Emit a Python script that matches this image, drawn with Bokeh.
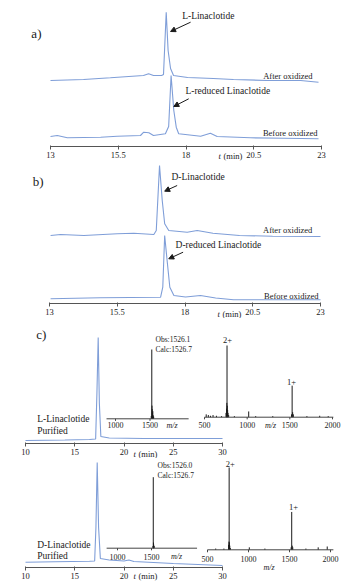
from bokeh.plotting import figure
from bokeh.layouts import column
from bokeh.models import Range1d, FixedTicker, Label, Arrow, NormalHead, NumeralTickFormatter, LinearAxis
from bokeh.core.properties import value
from bokeh.embed import file_html
from bokeh.resources import INLINE

SERIF = "Liberation Serif"
BLUE = "#7F9ED8"
INK = "#1a1a1a"
AXIS = "#555555"
W = 355

# ---------------- data ----------------
# a) HPLC, L-linaclotide (time in min, signal in arbitrary units, traces stacked)
a_after_t = [13.0, 14.22, 15.21, 16.43, 16.62, 16.80, 17.10, 17.17, 17.27, 17.34, 17.43, 17.54, 18.06, 19.01, 19.75, 21.0, 22.23, 22.89]
a_after_y = [66, 67, 68.7, 71, 72.7, 71, 71, 72, 134.3, 96, 78, 71, 69, 68, 67, 66, 66, 64.3]
a_before_t = [13.0, 13.25, 13.62, 14.85, 15.46, 16.32, 16.44, 16.63, 16.80, 17.24, 17.36, 17.45, 17.55, 17.64, 17.73, 18.54, 18.90, 19.15, 20.38, 21.60, 22.89]
a_before_y = [10, 11, 8.7, 9.3, 10.3, 11, 14.3, 13.7, 11, 12.7, 20, 71, 36, 19.3, 12.7, 10.3, 13.3, 10, 8.7, 8.3, 7.7]

# b) HPLC, D-linaclotide
b_after_t = [13.04, 13.41, 14.27, 15.50, 16.11, 16.85, 16.94, 17.06, 17.16, 17.25, 17.40, 18.08, 18.45, 19.03, 20.01, 21.23, 23.0]
b_after_y = [68, 69, 68, 69.7, 70.3, 69, 73, 138, 103, 79.7, 73, 71.3, 73, 70.3, 68, 67.3, 67]
b_before_t = [13.04, 14.88, 17.10, 17.18, 17.25, 17.34, 17.44, 17.59, 18.02, 18.57, 19.13, 19.79, 23.0]
b_before_y = [4.7, 5.7, 6.3, 16.3, 68, 43, 16.3, 8, 6.5, 8, 5.5, 3.7, 3.7]

ab_ticks = [13, 15.5, 18, 20.5, 23]

# c) purified peptides: HPLC + MS
cL_t = [10.0, 14.0, 16.5, 17.12, 17.25, 17.38, 17.5, 17.65, 18.5, 22.0, 26.0, 30.0]
cL_y = [3, 3.5, 4, 4.5, 50, 106, 40, 7, 5.5, 5, 5, 5]
cD_t = [10.0, 13.0, 16.5, 17.02, 17.15, 17.28, 17.42, 17.6, 18.5, 20.0, 20.5, 21.0, 25.0, 30.0]
cD_y = [5.3, 5.8, 6.3, 6.5, 40, 105, 40, 9, 7.5, 6.5, 7.5, 6, 4, 2]
c_ticks = [10, 15, 20, 25, 30]

msL_obs_mz = [1518, 1526, 1529, 1532, 1536, 1541, 1547, 1553]
msL_obs_int = [4, 100, 19, 14, 9, 11, 5, 3]
msL_full_mz = [520, 545, 570, 600, 640, 700, 752, 758, 762, 764, 767, 771, 776, 783, 850, 1018, 1100, 1300, 1520, 1527, 1533, 1541, 1700, 1850, 1950]
msL_full_int = [4, 3, 2, 3, 2, 1.5, 6, 12, 20, 100, 16, 10, 6, 3, 1.5, 8, 1.5, 1.5, 4, 44, 7, 4, 1.5, 2, 1.5]
msD_obs_mz = [1521, 1526, 1529, 1533, 1540]
msD_obs_int = [3, 100, 8, 5, 3]
msD_full_mz = [600, 700, 758, 762, 764, 767, 772, 780, 1010, 1200, 1520, 1527, 1533, 1540, 1700, 1850, 1960]
msD_full_int = [1.5, 1.5, 6, 10, 100, 9, 5, 2, 3, 1.5, 3, 46, 5, 3, 1.5, 3, 4]
ms_zoom_ticks = [1000, 1500]
ms_full_ticks = [500, 1000, 1500, 2000]


# ---------------- helpers ----------------
def rng(v0, p0, v1, p1, length):
    k = (v1 - v0) / (p1 - p0)
    return Range1d(v0 - p0 * k, v0 + (length - p0) * k)


def chrom_fig(height, y_bottom, xr, bounds, ticks, fmt=None):
    # y data units = pixels above the time axis; the axis sits at y = 0 inside the frame
    p = figure(width=W, height=height, x_range=xr, y_range=Range1d(y_bottom, y_bottom + height),
               output_backend="svg", toolbar_location=None, x_axis_location=None, y_axis_location=None,
               min_border_left=0, min_border_right=0, min_border_top=0, min_border_bottom=0)
    p.outline_line_color = None
    p.grid.visible = False
    ax = LinearAxis(fixed_location=0, ticker=FixedTicker(ticks=ticks), bounds=bounds)
    ax.axis_line_color = AXIS
    ax.major_tick_line_color = AXIS
    ax.major_tick_out = 3
    ax.major_tick_in = 1
    ax.minor_tick_line_color = None
    ax.major_label_standoff = 2
    ax.major_label_text_font = SERIF
    ax.major_label_text_font_size = "8.5px"
    ax.major_label_text_color = INK
    if fmt:
        ax.formatter = fmt
    p.add_layout(ax, "below")
    return p


def label(p, x, y, text, size="9.5px", align="left", style="normal", xoff=0, **kw):
    p.add_layout(Label(x=x, y=y, text=text, text_font=SERIF, text_font_size=size,
                       text_align=align, text_baseline="middle", text_color=INK,
                       text_font_style=style, x_offset=xoff, **kw))


def arrow(p, x0, y0, x1, y1):
    p.add_layout(Arrow(end=NormalHead(size=5, fill_color=INK, line_color=INK, line_width=1),
                       x_start=x0, y_start=y0, x_end=x1, y_end=y1,
                       line_color=INK, line_width=1))


def tlabel(p, x, y):
    label(p, x, y, "t", size="8.5px", style="italic")
    label(p, x, y, "(min)", size="8.5px", xoff=5)


def ms_inset(p, xname, yname, mz, inten, ax_lo, ax_hi, ticks, tick_y, mz_x, mz_y, tick_len):
    p.segment(x0=mz, y0=[0] * len(mz), x1=mz, y1=inten, x_range_name=xname, y_range_name=yname,
              line_color=INK, line_width=1)
    p.segment(x0=[ax_lo], y0=[0], x1=[ax_hi], y1=[0], x_range_name=xname, y_range_name=yname,
              line_color="#444444", line_width=1)
    p.segment(x0=ticks, y0=[0] * len(ticks), x1=ticks, y1=[-tick_len] * len(ticks),
              x_range_name=xname, y_range_name=yname, line_color="#444444", line_width=1)
    p.text(x=ticks, y=[tick_y] * len(ticks), text=[str(t) for t in ticks],
           x_range_name=xname, y_range_name=yname, text_font=value(SERIF),
           text_font_size="8px", text_align="center", text_baseline="middle", text_color=INK)
    p.text(x=[mz_x], y=[mz_y], text=["m/z"], x_range_name=xname, y_range_name=yname,
           text_font=value(SERIF), text_font_style="italic",
           text_font_size="8px", text_align="center", text_baseline="middle", text_color=INK)


# ---------------- panel a ----------------
fmt = NumeralTickFormatter(format="0.[0]")
pA = chrom_fig(161, -15, rng(13, 50, 23, 321, W), (13, 23), ab_ticks, fmt)
pA.line(a_after_t, a_after_y, line_color=BLUE, line_width=1.1)
pA.line(a_before_t, a_before_y, line_color=BLUE, line_width=1.1)
label(pA, 12.48, 113.5, "a)", size="13px", align="center")
label(pA, 17.86, 131, "L-Linaclotide")
arrow(pA, 18.17, 124.3, 17.43, 115)
label(pA, 22.67, 71, "After oxidized", size="8.5px", align="right")
label(pA, 17.98, 56, "L-reduced  Linaclotide")
arrow(pA, 18.10, 47.7, 17.55, 40)
label(pA, 22.85, 13.3, "Before oxidized", size="8.5px", align="right")
tlabel(pA, 19.2, -9.7)

# ---------------- panel b ----------------
pB = chrom_fig(157, -15, rng(13, 49, 23, 320, W), (13, 23), ab_ticks, fmt)
pB.line(b_after_t, b_after_y, line_color=BLUE, line_width=1.1)
pB.line(b_before_t, b_before_y, line_color=BLUE, line_width=1.1)
label(pB, 12.58, 122, "b)", size="13px", align="center")
label(pB, 17.50, 127, "D-Linaclotide")
arrow(pB, 17.71, 118, 17.25, 112.3)
label(pB, 22.70, 73.7, "After oxidized", size="8.5px", align="right")
label(pB, 17.65, 59, "D-reduced  Linaclotide")
arrow(pB, 17.93, 51.3, 17.40, 44.7)
label(pB, 22.93, 8, "Before oxidized", size="8.5px", align="right")
tlabel(pB, 19.2, -10.3)

# ---------------- panel c (L) ----------------
pC1 = chrom_fig(140, -15, rng(10, 25, 30, 222, W), (10, 30), c_ticks)
pC1.extra_x_ranges = {"mzA": rng(1000, 115, 1500, 149.5, W), "mzB": rng(500, 204, 2000, 332, W)}
pC1.extra_y_ranges = {"iA": rng(0, 39.7, 100, 109, 140), "iB": rng(0, 41.3, 100, 113, 140)}
pC1.line(cL_t, cL_y, line_color=BLUE, line_width=1.1)
ms_inset(pC1, "mzA", "iA", msL_obs_mz, msL_obs_int, 870, 2060, ms_zoom_ticks, -9.5, 1819, -9.5, 3)
ms_inset(pC1, "mzB", "iB", msL_full_mz, msL_full_int, 500, 2010, ms_full_ticks, -11.5, 1273, -11.5, 3)
label(pC1, 11.6, 109, "c)", size="13px", align="center")
label(pC1, 11.19, 24.7, "L-Linaclotide")
label(pC1, 11.19, 13, "Purified")
pC1.text(x=[1580, 1580], y=[114.4, 100], text=["Obs:1526.1", "Calc:1526.7"], x_range_name="mzA", y_range_name="iA",
         text_font=value(SERIF), text_font_size="7.5px", text_baseline="middle", text_color=INK)
pC1.text(x=[769.5, 1519.6], y=[107, 48.4], text=["2+", "1+"], x_range_name="mzB", y_range_name="iB",
         text_font=value(SERIF), text_font_size="8.5px", text_align="center", text_baseline="middle", text_color=INK)
tlabel(pC1, 20.96, -10)

# ---------------- panel c (D) ----------------
pC2 = chrom_fig(129, -20, rng(10, 25, 30, 222, W), (10, 30), c_ticks)
pC2.extra_x_ranges = {"mzA": rng(1000, 117, 1500, 151, W), "mzB": rng(500, 207, 2000, 330, W)}
pC2.extra_y_ranges = {"iA": rng(0, 39.3, 100, 110.3, 129), "iB": rng(0, 37.7, 100, 120, 129)}
pC2.line(cD_t, cD_y, line_color=BLUE, line_width=1.1)
ms_inset(pC2, "mzA", "iA", msD_obs_mz, msD_obs_int, 840, 2170, ms_zoom_ticks, -11.7, 1868, -11.7, 3)
ms_inset(pC2, "mzB", "iB", msD_full_mz, msD_full_int, 500, 2035, ms_full_ticks, -10.6, 1250, -21.1, 3)
label(pC2, 11.19, 22.7, "D-Linaclotide")
label(pC2, 11.19, 12, "Purified")
pC2.text(x=[1588, 1588], y=[116.5, 102.4], text=["Obs:1526.0", "Calc:1526.7"], x_range_name="mzA", y_range_name="iA",
         text_font=value(SERIF), text_font_size="7.5px", text_baseline="middle", text_color=INK)
pC2.text(x=[777, 1549], y=[104.5, 51.8], text=["2+", "1+"], x_range_name="mzB", y_range_name="iB",
         text_font=value(SERIF), text_font_size="8.5px", text_align="center", text_baseline="middle", text_color=INK)
tlabel(pC2, 20.96, -8.7)

layout = column(pA, pB, pC1, pC2, spacing=0)
open("out.html", "w").write(file_html(layout, INLINE))
